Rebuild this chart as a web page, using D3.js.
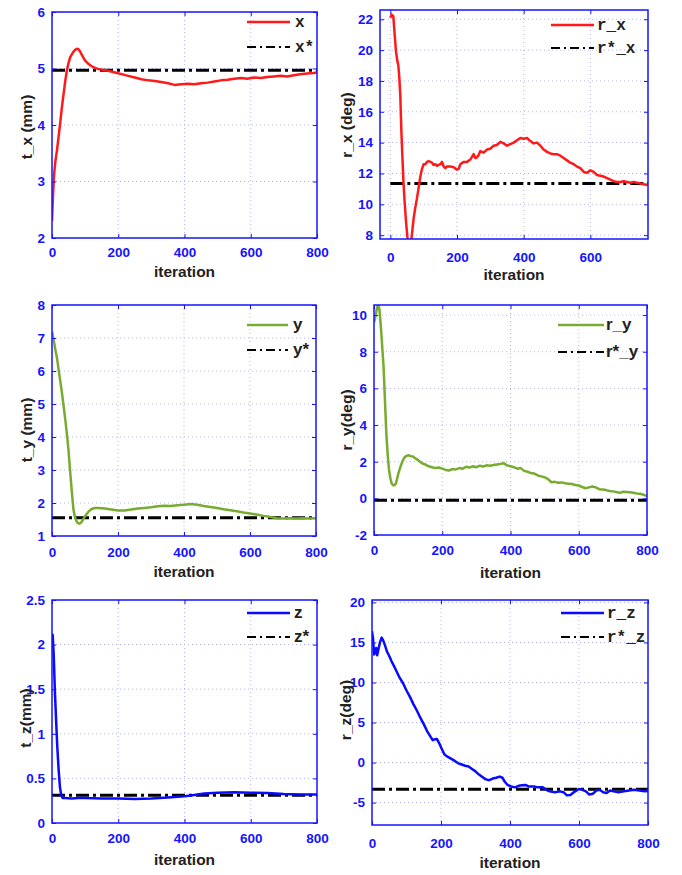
<!DOCTYPE html>
<html><head><meta charset="utf-8">
<script src="https://cdn.jsdelivr.net/npm/d3@7"></script>
<style>
html,body{margin:0;padding:0;background:#fff;}
svg{display:block;}
</style></head>
<body>
<svg id="chart" width="682" height="875"></svg>
<script>
// ---------- DATA ----------
const txIter = [0,3,6,10,15,20,25,30,35,40,45,50,55,60,65,70,75,80,85,90,95,100,110,120,130,140,150,170,190,210,230,250,270,290,310,330,350,370,390,410,430,450,470,490,510,530,550,570,590,610,630,650,670,690,710,730,750,770,790,800];
const txVal  = [2.3,2.75,3.1,3.35,3.55,3.8,4.05,4.32,4.55,4.78,4.97,5.1,5.2,5.25,5.3,5.33,5.35,5.34,5.3,5.24,5.19,5.14,5.08,5.04,5.01,4.99,4.98,4.96,4.93,4.9,4.87,4.84,4.81,4.79,4.78,4.76,4.74,4.71,4.72,4.73,4.72,4.74,4.75,4.77,4.79,4.8,4.82,4.83,4.82,4.84,4.83,4.85,4.86,4.87,4.86,4.88,4.9,4.91,4.92,4.93];
const txRef = 4.97;

const rxIter = [0,4,9,13,17,21,24,27,30,33,36,39,43,47,51,55,58,62,66,70,75,80,85,90,95,100,105,110,115,120,125,130,135,140,145,150,155,160,165,170,180,190,200,205,210,220,230,240,250,255,260,265,270,280,290,300,310,320,330,340,350,360,370,380,390,400,410,420,430,440,450,460,470,480,490,500,510,520,530,540,550,560,570,580,590,600,610,620,630,640,650,660,670,680,690,700,710,720,730,740,750,760,772];
const rxVal  = [22.1,22.3,22.2,21.0,19.9,19.3,19.0,18.2,17.0,14.8,13.2,11.6,10.1,8.9,7.9,7.3,7.2,7.5,8.3,9.1,9.8,10.4,11.1,11.8,12.3,12.6,12.6,12.75,12.8,12.75,12.7,12.55,12.6,12.5,12.55,12.6,12.75,12.45,12.35,12.45,12.45,12.4,12.25,12.3,12.6,12.75,12.75,12.9,13.25,13.0,13.05,13.2,13.45,13.35,13.55,13.6,13.8,13.85,14.05,13.95,13.8,13.9,14.0,14.15,14.3,14.25,14.3,14.1,13.95,14.0,13.8,13.55,13.4,13.3,13.25,13.25,13.15,13.0,12.85,12.7,12.6,12.45,12.35,12.1,12.05,12.2,12.1,11.9,11.85,11.8,11.7,11.6,11.5,11.45,11.45,11.5,11.45,11.4,11.45,11.4,11.35,11.3,11.25];
const rxRef = 11.35;

const tyIter = [0,5,10,15,20,25,30,35,40,45,50,55,60,65,70,75,80,85,90,95,100,110,120,130,140,150,160,180,200,220,240,260,280,300,320,340,360,380,400,420,440,460,480,500,520,540,560,580,600,620,640,660,680,700,720,740,760,780,800];
const tyVal  = [7.2,6.95,6.65,6.4,6.05,5.7,5.35,4.95,4.55,4.1,3.6,2.95,2.35,1.8,1.55,1.43,1.38,1.38,1.43,1.52,1.6,1.73,1.82,1.85,1.85,1.84,1.83,1.8,1.77,1.77,1.8,1.83,1.85,1.87,1.9,1.92,1.91,1.93,1.95,1.97,1.95,1.91,1.88,1.85,1.81,1.78,1.75,1.71,1.68,1.65,1.61,1.58,1.54,1.53,1.54,1.53,1.54,1.53,1.54];
const tyRef = 1.55;

const ryIter = [0,4,8,12,16,20,24,28,32,36,40,44,48,52,56,60,64,68,72,78,84,90,96,102,108,115,121,128,135,142,150,160,170,180,190,200,210,220,230,240,250,260,270,280,290,300,310,320,330,340,350,360,370,380,390,400,410,420,430,440,450,460,470,480,490,500,510,520,530,540,550,560,570,580,590,600,610,620,630,640,650,660,670,680,690,700,710,720,730,740,750,760,770,780,790,800];
const ryVal  = [9.6,9.9,10.3,10.6,10.3,9.4,8.3,7.2,5.4,3.6,2.4,1.55,1.1,0.8,0.72,0.72,0.8,1.1,1.4,1.75,2.05,2.25,2.33,2.35,2.3,2.28,2.18,2.1,2.0,1.9,1.85,1.75,1.7,1.65,1.68,1.62,1.55,1.52,1.6,1.58,1.65,1.62,1.72,1.68,1.75,1.7,1.78,1.74,1.8,1.78,1.82,1.85,1.88,1.92,1.8,1.75,1.7,1.62,1.65,1.5,1.45,1.38,1.35,1.25,1.2,1.15,1.05,0.88,0.9,0.85,0.87,0.82,0.8,0.78,0.73,0.7,0.62,0.55,0.6,0.65,0.6,0.5,0.48,0.45,0.4,0.38,0.35,0.3,0.36,0.35,0.33,0.3,0.27,0.25,0.2,0.12];
const ryRef = -0.1;

const tzIter = [0,2,5,9,13,16,20,24,28,32,40,60,80,100,150,200,250,300,350,400,430,460,500,550,600,650,700,750,800];
const tzVal  = [2.1,2.11,1.9,1.45,1.1,0.85,0.6,0.4,0.31,0.28,0.28,0.275,0.28,0.28,0.275,0.275,0.27,0.275,0.285,0.3,0.315,0.33,0.34,0.345,0.34,0.335,0.325,0.32,0.32];
const tzRef = 0.31;

const rzIter = [0,3,6,9,12,15,19,23,28,33,38,43,50,56,62,70,80,90,100,110,120,130,140,150,160,170,176,182,188,195,200,210,220,230,240,250,260,270,280,290,300,310,320,330,340,350,360,370,378,385,393,403,415,425,435,445,455,470,480,495,505,515,530,545,555,565,575,585,600,610,620,630,640,650,660,670,680,690,700,715,730,745,760,775,790,800];
const rzVal  = [16.4,15.5,13.5,13.8,14.3,13.4,14.2,15.0,15.6,15.2,14.6,13.9,13.3,12.7,12.2,11.5,10.6,9.9,9.0,8.2,7.3,6.5,5.6,4.8,3.9,3.2,2.8,2.9,2.95,2.4,1.9,1.0,0.7,0.45,0.2,-0.1,-0.25,-0.4,-0.5,-0.8,-1.1,-1.5,-1.8,-2.1,-2.2,-2.0,-1.9,-1.75,-1.9,-2.4,-2.8,-3.0,-3.1,-2.9,-2.85,-2.8,-3.0,-3.0,-3.1,-3.1,-3.4,-3.6,-3.7,-3.6,-3.7,-4.1,-4.05,-3.7,-3.3,-3.4,-3.6,-4.0,-3.9,-3.5,-3.4,-3.7,-3.8,-3.5,-3.6,-3.7,-3.6,-3.5,-3.4,-3.5,-3.6,-3.55];
const rzRef = -3.35;

const xTicksFull = [0,200,400,600,800];
const xTicksRx = [0,200,400,600];
const yTicksTx = [2,3,4,5,6];
const yTicksRx = [8,10,12,14,16,18,20,22];
const yTicksTy = [1,2,3,4,5,6,7,8];
const yTicksRy = [-2,0,2,4,6,8,10];
const yTicksTz = [0,0.5,1,1.5,2,2.5];
const yTicksRz = [-5,0,5,10,15,20];

const legendTx = ["x","x*"], legendRx = ["r_x","r*_x"], legendTy = ["y","y*"];
const legendRy = ["r_y","r*_y"], legendTz = ["z","z*"], legendRz = ["r_z","r*_z"];
const yLabels = ["t_x (mm)","r_x (deg)","t_y (mm)","r_y(deg)","t_z(mm)","r_z(deg)"];

// ---------- COLORS ----------
const RED = "#ff1a1a", GREEN = "#77ac30", BLUE = "#0a0aff";
const AX = "#1414ff";

// ---------- PANELS ----------
const panels = [
  {L:52,R:317,T:12,B:238, xd:[0,800], yd:[2,6], xt:xTicksFull, yt:yTicksTx, it:txIter, v:txVal, ref:txRef, color:RED, leg:legendTx, mono:true,
   lg:{x0:247,x1:290,tx:295,y1:22,y2:47}, yl:{x:32,y:127,t:yLabels[0]}, xl:{y:277}, xtb:257},
  {L:380,R:648,T:10,B:239, xd:[-31,773], yd:[7.75,22.6], xt:xTicksRx, yt:yTicksRx, it:rxIter, v:rxVal, ref:rxRef, color:RED, leg:legendRx, mono:true,
   lg:{x0:551,x1:594,tx:597,y1:25,y2:48}, yl:{x:352,y:125,t:yLabels[1]}, xl:{y:280}, xtb:262},
  {L:52,R:316,T:305,B:536, xd:[0,800], yd:[1,8], xt:xTicksFull, yt:yTicksTy, it:tyIter, v:tyVal, ref:tyRef, color:GREEN, leg:legendTy, mono:false,
   lg:{x0:247,x1:288,tx:293,y1:325,y2:350}, yl:{x:32,y:430,t:yLabels[2]}, xl:{y:577}, xtb:557},
  {L:374,R:647,T:305,B:535, xd:[0,800], yd:[-2,10.55], xt:xTicksFull, yt:yTicksRy, it:ryIter, v:ryVal, ref:ryRef, color:GREEN, leg:legendRy, mono:false,
   lg:{x0:558,x1:604,tx:606,y1:325,y2:352}, yl:{x:352,y:420,t:yLabels[3]}, xl:{y:578}, xtb:555},
  {L:52,R:317,T:600,B:823, xd:[0,800], yd:[0,2.5], xt:xTicksFull, yt:yTicksTz, it:tzIter, v:tzVal, ref:tzRef, color:BLUE, leg:legendTz, mono:false,
   lg:{x0:247,x1:290,tx:294,y1:613,y2:637}, yl:{x:31,y:718,t:yLabels[4]}, xl:{y:865}, xtb:843},
  {L:372,R:648,T:600,B:825, xd:[0,800], yd:[-7.8,20.3], xt:xTicksFull, yt:yTicksRz, it:rzIter, v:rzVal, ref:rzRef, color:BLUE, leg:legendRz, mono:true,
   lg:{x0:561,x1:604,tx:607,y1:613,y2:637}, yl:{x:351,y:710,t:yLabels[5]}, xl:{y:868}, xtb:848}
];

const svg = d3.select("#chart");
const SANS = "'Liberation Sans', Arial, Helvetica, sans-serif";
const MONO = "'Liberation Mono', 'Courier New', monospace";
const fmt = d => String(d);

panels.forEach((p, i) => {
  const x = d3.scaleLinear().domain(p.xd).range([p.L, p.R]);
  const y = d3.scaleLinear().domain(p.yd).range([p.B, p.T]);
  const g = svg.append("g");
  const cid = "clip" + i;
  g.append("clipPath").attr("id", cid).append("rect")
    .attr("x", p.L).attr("y", p.T).attr("width", p.R - p.L).attr("height", p.B - p.T);

  // grid
  const grid = g.append("g").attr("stroke", "#b4b4ee").attr("stroke-width", 1).attr("stroke-dasharray", "1,3");
  p.xt.forEach(t => { if (x(t) > p.L + 1 && x(t) < p.R - 1)
    grid.append("line").attr("x1", x(t)).attr("x2", x(t)).attr("y1", p.T).attr("y2", p.B); });
  p.yt.forEach(t => { if (y(t) > p.T + 1 && y(t) < p.B - 1)
    grid.append("line").attr("y1", y(t)).attr("y2", y(t)).attr("x1", p.L).attr("x2", p.R); });

  // reference line
  g.append("line").attr("clip-path", `url(#${cid})`)
    .attr("x1", x(0)).attr("x2", x(800)).attr("y1", y(p.ref)).attr("y2", y(p.ref))
    .attr("stroke", "#000").attr("stroke-width", 3).attr("stroke-dasharray", "13,4,3,4");

  // data line
  const pts = p.it.map((d, k) => [d, p.v[k]]);
  g.append("path").datum(pts).attr("clip-path", `url(#${cid})`)
    .attr("fill", "none").attr("stroke", p.color).attr("stroke-width", 2.5)
    .attr("stroke-linejoin", "round")
    .attr("d", d3.line().x(d => x(d[0])).y(d => y(d[1])));

  // axes (box with inward ticks)
  const axB = g.append("g").attr("transform", `translate(0,${p.B})`)
    .call(d3.axisBottom(x).tickValues(p.xt).tickSize(-4).tickPadding(9).tickFormat(fmt));
  const axT = g.append("g").attr("transform", `translate(0,${p.T})`)
    .call(d3.axisTop(x).tickValues(p.xt).tickSize(-4).tickFormat(""));
  const axL = g.append("g").attr("transform", `translate(${p.L},0)`)
    .call(d3.axisLeft(y).tickValues(p.yt).tickSize(-4).tickPadding(7).tickFormat(fmt));
  const axR = g.append("g").attr("transform", `translate(${p.R},0)`)
    .call(d3.axisRight(y).tickValues(p.yt).tickSize(-4).tickFormat(""));
  [axB, axT, axL, axR].forEach(a => {
    a.select(".domain").remove();
    a.selectAll("line").attr("stroke", AX).attr("stroke-width", 1);
    a.selectAll("text").attr("fill", AX).attr("font-family", SANS)
      .attr("font-weight", "bold").attr("font-size", 13.5);
  });
  axB.selectAll("text").attr("dy", null).attr("y", p.xtb - p.B);
  g.append("rect").attr("x", p.L).attr("y", p.T).attr("width", p.R - p.L).attr("height", p.B - p.T)
    .attr("fill", "none").attr("stroke", AX).attr("stroke-width", 1.5);

  // axis labels
  g.append("text").attr("x", (p.L + p.R) / 2).attr("y", p.xl.y).attr("text-anchor", "middle")
    .attr("font-family", SANS).attr("font-weight", "bold").attr("font-size", 15.5).attr("fill", "#222")
    .text("iteration");
  g.append("text").attr("transform", `translate(${p.yl.x},${p.yl.y}) rotate(-90)`).attr("text-anchor", "middle")
    .attr("font-family", SANS).attr("font-weight", "bold").attr("font-size", 15.5).attr("fill", "#222")
    .text(p.yl.t);

  // legend
  const lf = p.mono ? MONO : SANS;
  const ls = p.mono ? 16 : 17;
  g.append("line").attr("x1", p.lg.x0).attr("x2", p.lg.x1).attr("y1", p.lg.y1).attr("y2", p.lg.y1)
    .attr("stroke", p.color).attr("stroke-width", 2.5);
  g.append("line").attr("x1", p.lg.x0).attr("x2", p.lg.x1).attr("y1", p.lg.y2).attr("y2", p.lg.y2)
    .attr("stroke", "#000").attr("stroke-width", 2).attr("stroke-dasharray", "9,4,2,4");
  g.append("text").attr("x", p.lg.tx).attr("y", p.lg.y1 + 5).attr("font-family", lf).attr("font-weight", "bold")
    .attr("font-size", ls).attr("fill", "#222").text(p.leg[0]);
  g.append("text").attr("x", p.lg.tx).attr("y", p.lg.y2 + 5).attr("font-family", lf).attr("font-weight", "bold")
    .attr("font-size", ls).attr("fill", "#222").text(p.leg[1]);
});
</script>
</body></html>
